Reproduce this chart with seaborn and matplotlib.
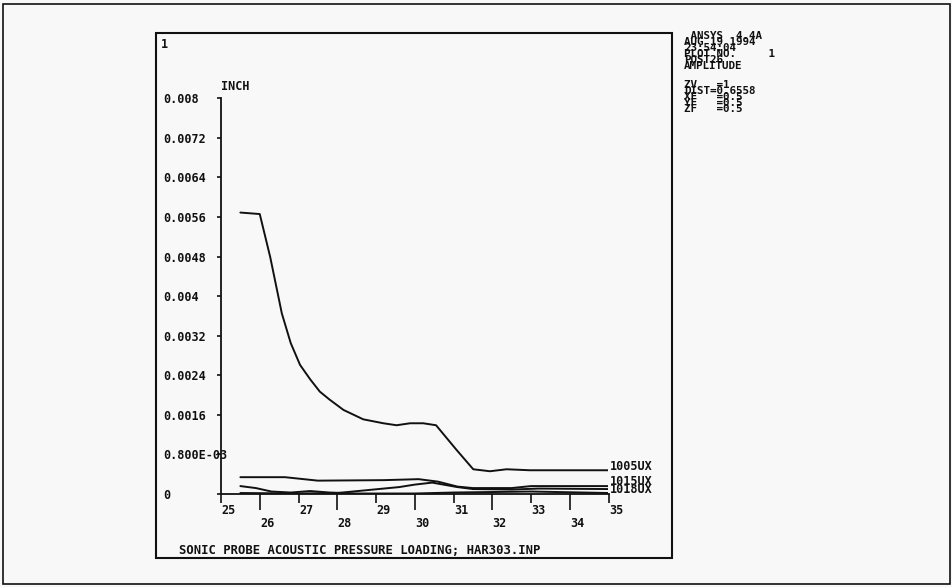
import matplotlib
matplotlib.use("Agg")
import matplotlib.pyplot as plt
import matplotlib.patches as mpatches
import matplotlib.transforms as mtransforms
import seaborn as sns
import pandas as pd

# ---------------- data ----------------
x_1005 = [25.5, 26.0, 26.27, 26.57, 26.8, 27.04, 27.3, 27.55, 27.8, 28.16, 28.67,
          29.19, 29.53, 29.88, 30.22, 30.55, 31.08, 31.51, 31.94, 32.37, 32.97, 35.0]
v_1005 = [0.00569, 0.00566, 0.00479, 0.00365, 0.00305, 0.00261, 0.00232, 0.00207,
          0.00191, 0.00170, 0.00151, 0.00143, 0.00139, 0.00143, 0.00143, 0.00139,
          0.00089, 0.00050, 0.00046, 0.00050, 0.00048, 0.00048]

x_1015 = [25.5, 26.65, 27.5, 29.2, 30.1, 30.6, 31.1, 31.5, 32.5, 33.0, 35.0]
v_1015 = [0.00034, 0.00034, 0.00027, 0.00028, 0.00030, 0.00025, 0.00015, 0.00012,
          0.00012, 0.00016, 0.00016]

x_mid = [25.5, 27.0, 28.0, 28.8, 29.6, 30.0, 30.45, 31.1, 31.5, 32.5, 33.2, 35.0]
v_mid = [0.00002, 0.00001, 0.00002, 0.00008, 0.00014, 0.00019, 0.00023, 0.00014,
         0.00010, 0.00009, 0.00011, 0.00010]

x_1018 = [25.5, 25.9, 26.3, 26.8, 27.3, 27.8, 28.5, 30.0, 31.0, 32.0, 33.0, 35.0]
v_1018 = [0.00016, 0.00012, 0.00005, 0.00003, 0.00006, 0.00003, 0.00001, 0.00001,
          0.00003, 0.00004, 0.00005, 0.00002]

label_top = "1005UX"
labels_low = ["1015UX", "1018UX"]

y_ticks = [0, 0.0008, 0.0016, 0.0024, 0.0032, 0.004, 0.0048, 0.0056, 0.0064, 0.0072, 0.008]
y_tick_labels = ["0", "0.800E-03", "0.0016", "0.0024", "0.0032", "0.004", "0.0048",
                 "0.0056", "0.0064", "0.0072", "0.008"]
x_even = [26, 28, 30, 32, 34]
x_odd = [25, 27, 29, 31, 33, 35]

info_top = [" ANSYS  4.4A", "AUG 19 1994", "23:54:04", "PLOT NO.     1", "POST26", "AMPLITUDE"]
info_bottom = ["ZV   =1", "DIST=0.6558", "XF   =0.5", "YF   =0.5", "ZF   =0.5"]
title = "SONIC PROBE ACOUSTIC PRESSURE LOADING; HAR303.INP"

# ---------------- style ----------------
sns.set_style("ticks")
plt.rcParams["font.family"] = ["DejaVu Sans Mono", "DejaVu Sans"]
plt.rcParams["font.weight"] = "bold"
BG = "#f8f8f8"
INK = "#111111"

W, H = 953, 587
fig = plt.figure(figsize=(W / 100, H / 100), dpi=100, facecolor=BG)


def fx(x):
    return x / W


def fy(y):
    return 1 - y / H


# axes: x 25 -> px 221, 35 -> px 608.5 ; y 0 -> px 494, 0.008 -> px 98.3
ax = fig.add_axes([fx(221), fy(494), (608.5 - 221) / W, (494 - 98.3) / H])
ax.set_facecolor("none")

frames = []
for i, (xs, vs) in enumerate(zip([x_1005, x_1015, x_mid, x_1018],
                                 [v_1005, v_1015, v_mid, v_1018])):
    frames.append(pd.DataFrame({"freq": xs, "amp": vs, "curve": i}))
df = pd.concat(frames, ignore_index=True)

for name, sub in df.groupby("curve", sort=False):
    sns.lineplot(data=sub, x="freq", y="amp", color=INK, linewidth=1.4,
                 ax=ax, estimator=None, sort=False, legend=False)

# end labels
ax.annotate(label_top, xy=(x_1005[-1], v_1005[-1]), xytext=(1, 0),
            textcoords="offset points", ha="left", va="baseline", fontsize=8.5,
            fontweight="bold", color=INK, annotation_clip=False)
ax.annotate("\n".join(labels_low), xy=(x_1018[-1], v_1018[-1]), xytext=(1, 0),
            textcoords="offset points", ha="left", va="baseline", fontsize=8.5,
            fontweight="bold", color=INK, linespacing=0.55, annotation_clip=False)

ax.set_xlim(25, 35)
ax.set_ylim(0, 0.008)
ax.set_xlabel("")
ax.set_ylabel("")
for s in ["top", "right"]:
    ax.spines[s].set_visible(False)
for s in ["left", "bottom"]:
    ax.spines[s].set_linewidth(1.3)
    ax.spines[s].set_color(INK)

# y ticks
ax.set_yticks(y_ticks, labels=y_tick_labels)
ax.tick_params(axis="y", direction="out", length=3, width=1.2, color=INK,
               pad=38.8, labelsize=8.5, labelcolor=INK)
for lab in ax.get_yticklabels():
    lab.set_horizontalalignment("left")
    lab.set_fontweight("bold")

# x ticks: even (major, long, lower row) and odd (minor, short, upper row)
ax.set_xticks(x_even, labels=[str(v) for v in x_even])
ax.set_xticks(x_odd, labels=[str(v) for v in x_odd], minor=True)
ax.tick_params(axis="x", which="major", direction="out", length=11.5, width=1.2,
               color=INK, pad=5, labelsize=8.5, labelcolor=INK)
ax.tick_params(axis="x", which="minor", direction="out", length=6.5, width=1.2,
               color=INK, pad=0.6, labelsize=8.5, labelcolor=INK)
shift = mtransforms.ScaledTranslation(7.5 / 100, 0, fig.dpi_scale_trans)
for lab in ax.get_xticklabels() + ax.get_xticklabels(minor=True):
    lab.set_transform(lab.get_transform() + shift)
    lab.set_fontweight("bold")

# frames
fig.patches.append(mpatches.Rectangle((fx(3), fy(584)), fx(947), (584 - 4) / H,
                                      transform=fig.transFigure, fill=False,
                                      edgecolor=INK, linewidth=1.2))
fig.patches.append(mpatches.Rectangle((fx(156), fy(558)), fx(672 - 156), (558 - 33) / H,
                                      transform=fig.transFigure, fill=False,
                                      edgecolor=INK, linewidth=1.5))

# texts
fig.text(fx(161), fy(45), "1", ha="left", va="center", fontsize=8.5, color=INK)
fig.text(fx(221), fy(87), "INCH", ha="left", va="center", fontsize=8.5, color=INK)
fig.text(fx(179), fy(551), title, ha="left", va="center", fontsize=8.8, color=INK)

fig.text(fx(684), fy(31), "\n".join(info_top), ha="left", va="top",
         fontsize=7.8, color=INK, linespacing=0.5)
fig.text(fx(684), fy(80), "\n".join(info_bottom), ha="left", va="top",
         fontsize=7.8, color=INK, linespacing=0.5)

fig.savefig("out.png", dpi=100, facecolor=BG)
